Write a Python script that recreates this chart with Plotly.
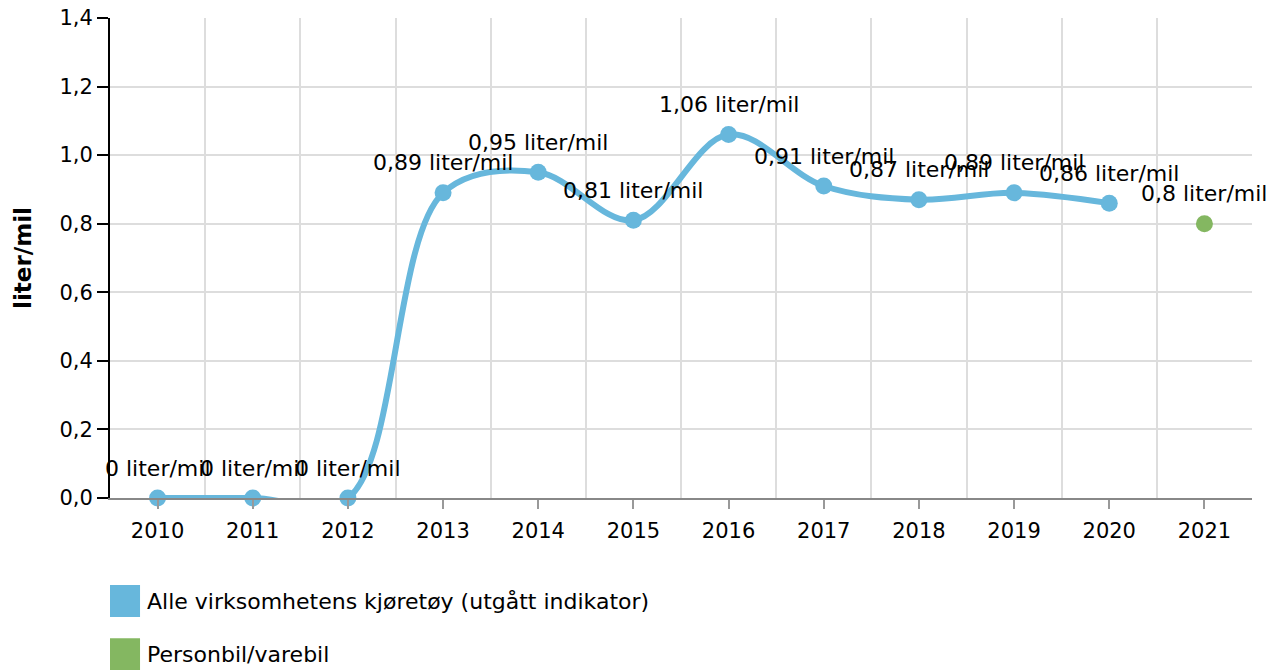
import plotly.graph_objects as go

YEARS = [2010, 2011, 2012, 2013, 2014, 2015, 2016, 2017, 2018, 2019, 2020]
ALLE = [0, 0, 0, 0.89, 0.95, 0.81, 1.06, 0.91, 0.87, 0.89, 0.86]
PB_YEARS = [2021]
PERSONBIL = [0.8]
ALL_YEARS = list(range(2010, 2022))
Y_TICKS = [0, 0.2, 0.4, 0.6, 0.8, 1.0, 1.2, 1.4]
SERIES_NAMES = ["Alle virksomhetens kjøretøy (utgått indikator)", "Personbil/varebil"]
COLORS = ["#67B7DC", "#84B761"]

FONT = "DejaVu Sans, Verdana, sans-serif"
FS = 21
FS_TEXT = 22


def fmt(v):
    s = f"{v:.2f}".rstrip("0").rstrip(".")
    return s.replace(".", ",") + " liter/mil"


fig = go.Figure()
fig.add_trace(go.Scatter(
    x=YEARS, y=ALLE, mode="lines+markers", name=SERIES_NAMES[0],
    line=dict(color=COLORS[0], width=6, shape="spline", smoothing=1),
    marker=dict(color=COLORS[0], size=17),
    showlegend=False, cliponaxis=False,
))
fig.add_trace(go.Scatter(
    x=PB_YEARS, y=PERSONBIL, mode="markers", name=SERIES_NAMES[1],
    marker=dict(color=COLORS[1], size=17),
    showlegend=False, cliponaxis=False,
))

# value labels above points
for xs, ys in [(YEARS, ALLE), (PB_YEARS, PERSONBIL)]:
    for x, y in zip(xs, ys):
        fig.add_annotation(x=x, y=y, text=fmt(y), showarrow=False, yshift=30,
                           font=dict(size=FS_TEXT, color="#000", family=FONT))

# custom legend below the plot
for i, (name, col) in enumerate(zip(SERIES_NAMES, COLORS)):
    top = -0.181 - i * 0.111
    fig.add_shape(type="rect", xref="paper", yref="paper",
                  x0=0, x1=0.0263, y0=top, y1=top - 0.067,
                  fillcolor=col, line=dict(width=0))
    fig.add_annotation(xref="paper", yref="paper", x=0.031, y=top - 0.034,
                       text=name, showarrow=False, xanchor="left", yanchor="middle",
                       font=dict(size=FS_TEXT, color="#000", family=FONT))

fig.update_layout(
    width=1277, height=662,
    margin=dict(l=102, r=33, t=10, b=172),
    plot_bgcolor="white", paper_bgcolor="white",
    font=dict(family=FONT, size=FS, color="#000"),
    xaxis=dict(
        range=[2009.5, 2021.5], tickmode="array", tickvals=ALL_YEARS,
        ticktext=[str(y) for y in ALL_YEARS],
        showgrid=False, zeroline=False, automargin=False,
        showline=True, linecolor="#888", linewidth=2,
        ticks="outside", ticklen=9, tickcolor="#999", tickwidth=2,
        tickfont=dict(size=FS), ticklabelstandoff=4,
        minor=dict(tickmode="array", tickvals=[y + 0.5 for y in ALL_YEARS],
                   showgrid=True, gridcolor="#dddddd", gridwidth=1.5, ticks=""),
    ),
    yaxis=dict(
        range=[0, 1.4], tickmode="array", tickvals=Y_TICKS,
        ticktext=[f"{v:.1f}".replace(".", ",") for v in Y_TICKS],
        showgrid=True, gridcolor="#dddddd", gridwidth=1.5, zeroline=False,
        showline=True, linecolor="#000", linewidth=2, automargin=False,
        ticks="outside", ticklen=11, tickcolor="#000", tickwidth=2,
        tickfont=dict(size=FS), ticklabeloverflow="allow",
        title=dict(text="<b>liter/mil</b>", font=dict(size=23), standoff=21),
    ),
)

fig.write_html("out.html")
